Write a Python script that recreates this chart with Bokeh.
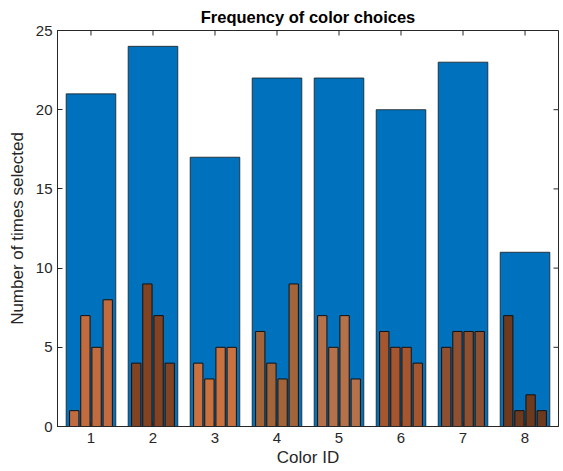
import math
from bokeh.plotting import figure
from bokeh.models import FixedTicker, Range1d, ColumnDataSource
from bokeh.transform import dodge
from bokeh.embed import file_html
from bokeh.resources import INLINE

color_ids = [1, 2, 3, 4, 5, 6, 7, 8]
totals = [21, 24, 17, 22, 22, 20, 23, 11]
choice_1 = [1, 4, 4, 6, 7, 6, 5, 7]
choice_2 = [7, 9, 3, 4, 5, 5, 6, 1]
choice_3 = [5, 7, 5, 3, 7, 5, 6, 2]
choice_4 = [8, 4, 5, 9, 3, 4, 6, 1]
group_colors = ["#C16B3E", "#824322", "#C9713F", "#A26438",
                "#B4714A", "#A5562F", "#8E5030", "#6E3A1E"]
y_ticks = [0, 5, 10, 15, 20, 25]

FONT = "Liberation Sans"
TXT = "#262626"
X_MIN, X_MAX = 0.46, 8.54
Y_MIN, Y_MAX = 0, 25

src = ColumnDataSource(dict(x=color_ids, total=totals, c1=choice_1, c2=choice_2,
                            c3=choice_3, c4=choice_4, color=group_colors))

p = figure(width=561, height=469, output_backend="svg", toolbar_location=None,
           x_range=Range1d(X_MIN, X_MAX), y_range=Range1d(Y_MIN, Y_MAX),
           title="Frequency of color choices",
           min_border_left=57, min_border_right=3, min_border_top=0, min_border_bottom=0)

p.vbar(x="x", top="total", width=0.8, source=src, fill_color="#0072BD",
       line_color="#1a1a1a", line_width=0.8)

offsets = [-0.27, -0.09, 0.09, 0.27]
for off, col in zip(offsets, ["c1", "c2", "c3", "c4"]):
    p.vbar(x=dodge("x", off), top=col, width=0.15, source=src,
           fill_color="color", line_color="#111111", line_width=1)

# mirrored tick marks on top and right edges of the box
p.ray(x=color_ids, y=[Y_MAX] * len(color_ids), length=5, length_units="screen",
      angle=-math.pi / 2, line_color=TXT, line_width=1)
p.ray(x=[X_MAX] * len(y_ticks), y=y_ticks, length=5, length_units="screen",
      angle=math.pi, line_color=TXT, line_width=1)

p.title.text_font = FONT
p.title.text_font_size = "16.5px"
p.title.text_font_style = "bold"
p.title.text_color = "#000000"
p.title.align = "center"
p.title.offset = 0

p.xgrid.visible = False
p.ygrid.visible = False
p.outline_line_color = TXT
p.outline_line_width = 1
p.background_fill_color = "white"

for ax in (p.xaxis[0], p.yaxis[0]):
    ax.major_tick_in = 5
    ax.major_tick_out = 0
    ax.minor_tick_line_color = None
    ax.axis_line_color = TXT
    ax.major_tick_line_color = TXT
    ax.major_label_text_font = FONT
    ax.major_label_text_font_size = "15px"
    ax.major_label_text_color = TXT
    ax.axis_label_text_font = FONT
    ax.axis_label_text_font_size = "17px"
    ax.axis_label_text_font_style = "normal"
    ax.axis_label_text_color = TXT

p.xaxis.ticker = FixedTicker(ticks=color_ids)
p.yaxis.ticker = FixedTicker(ticks=y_ticks)
p.xaxis.axis_label = "Color ID"
p.yaxis.axis_label = "Number of times selected"
p.xaxis.major_label_standoff = 6
p.yaxis.major_label_standoff = 5
p.xaxis.axis_label_standoff = 2
p.yaxis.axis_label_standoff = 6

open("out.html", "w").write(file_html(p, INLINE))
